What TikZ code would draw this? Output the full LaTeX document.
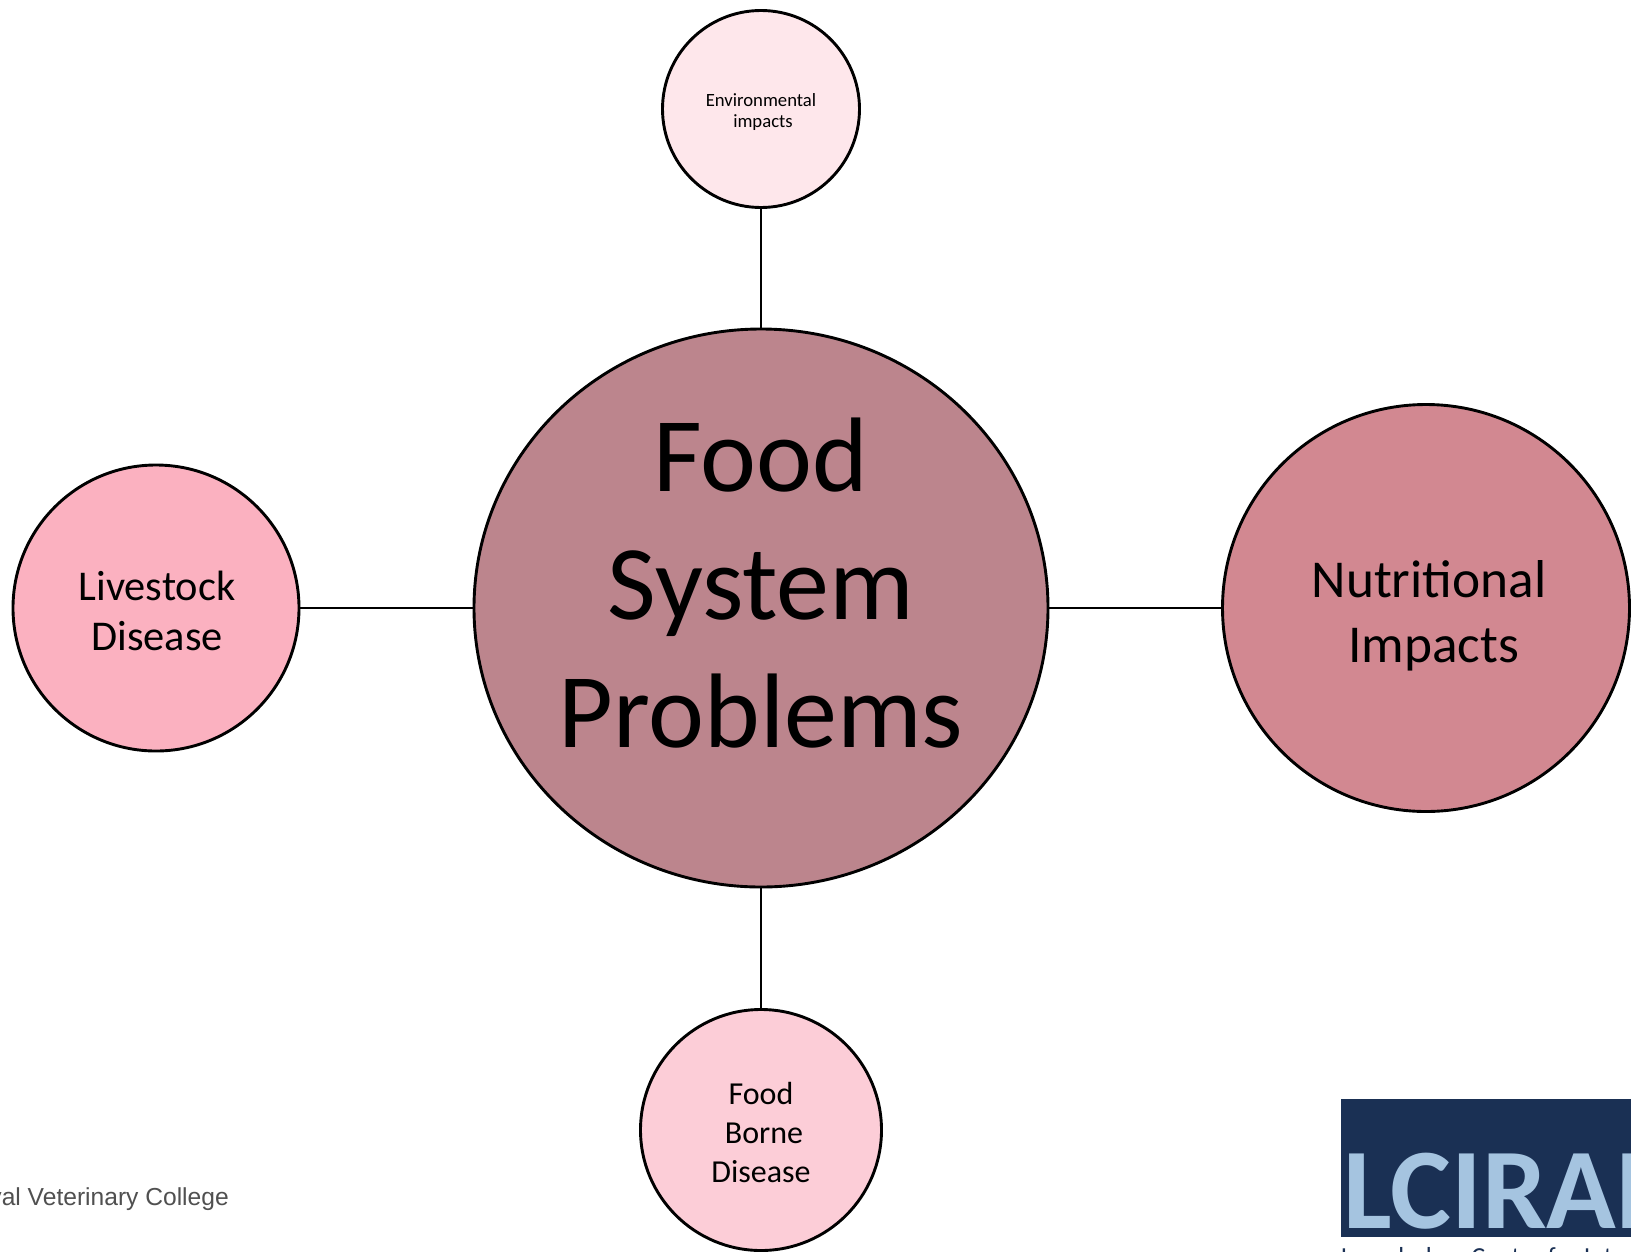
\documentclass[tikz,border=0pt]{standalone}
\usepackage{fontspec}
\setmainfont{Carlito}
\newfontfamily\logosans{Liberation Sans}
\definecolor{mainfill}{HTML}{BC858D}
\definecolor{rightfill}{HTML}{D28891}
\definecolor{leftfill}{HTML}{FBB1C0}
\definecolor{bottomfill}{HTML}{FCCDD7}
\definecolor{topfill}{HTML}{FEE7EB}
\definecolor{logodark}{HTML}{1A3054}
\definecolor{logolight}{HTML}{A5C4E0}
\definecolor{rvcgrey}{HTML}{505050}
\newcommand{\fs}[2]{\fontsize{#1}{#2}\selectfont}
\usetikzlibrary{shapes.geometric}
\tikzset{
  bubble/.style={draw=black,line width=2.9pt,circle,inner sep=0pt,minimum size=#1},
  oval/.style={draw=black,line width=2.9pt,ellipse,inner sep=0pt},
  label text/.style={align=center,inner sep=0pt,text=black},
  link/.style={draw=black,line width=2.4pt}
}
\begin{document}
\begin{tikzpicture}[x=1pt,y=-1pt]
\useasboundingbox (0,0) rectangle (1631,1251);
\fill[white] (0,0) rectangle (1631,1251);
% bubbles
\node[oval,fill=mainfill,minimum width=574pt,minimum height=558pt] (main) at (761,608) {};
\node[bubble=197pt,fill=topfill] (env) at (761,109) {};
\node[bubble=286pt,fill=leftfill] (live) at (156,608) {};
\node[bubble=407pt,fill=rightfill] (nutr) at (1426,608) {};
\node[bubble=241pt,fill=bottomfill] (food) at (761,1130) {};
% connectors
\draw[link] (env.south) -- (main.north);
\draw[link] (main.south) -- (food.north);
\draw[link] (live.east) -- (main.west);
\draw[link] (main.east) -- (nutr.west);
% labels
\node[label text,font=\fs{106}{128}] (maintext) at (761,583) {Food\\System\\Problems};
\node[label text,font=\fs{18.7}{21.5}] (envtext) at (761,112) {Environmental\\\hspace*{4pt}impacts};
\node[label text,font=\fs{42.4}{50}] (livetext) at (157,611) {Livestock\\Disease};
\node[label text,font=\fs{53.3}{64.5}] (nutrtext) at (1429,616) {Nutritional\\\hspace*{9pt}Impacts};
\node[label text,font=\fs{32}{39}] (foodtext) at (761,1132) {Food\\\hspace*{6pt}Borne\\Disease};
% logos
\begin{scope}
\clip (0,1150) rectangle (300,1251);
\node[inner sep=0pt,anchor=base east,text=rvcgrey,font=\logosans\fs{24.6}{30}] (rvc) at (229,1205) {Royal Veterinary College};
\end{scope}
\begin{scope}
\clip (1341,1099) rectangle (1631,1251);
\fill[logodark] (1341,1099) rectangle (1631,1237);
\node[inner sep=0pt,anchor=base west,text=logolight,font=\bfseries\fs{115}{120}] (lcirah) at (1343,1228) {LCIRAH};
\node[inner sep=0pt,anchor=base west,text=logodark,font=\fs{26}{30}] (lever) at (1341,1265) {Leverhulme Centre for Integrative Research};
\end{scope}
\end{tikzpicture}
\end{document}
